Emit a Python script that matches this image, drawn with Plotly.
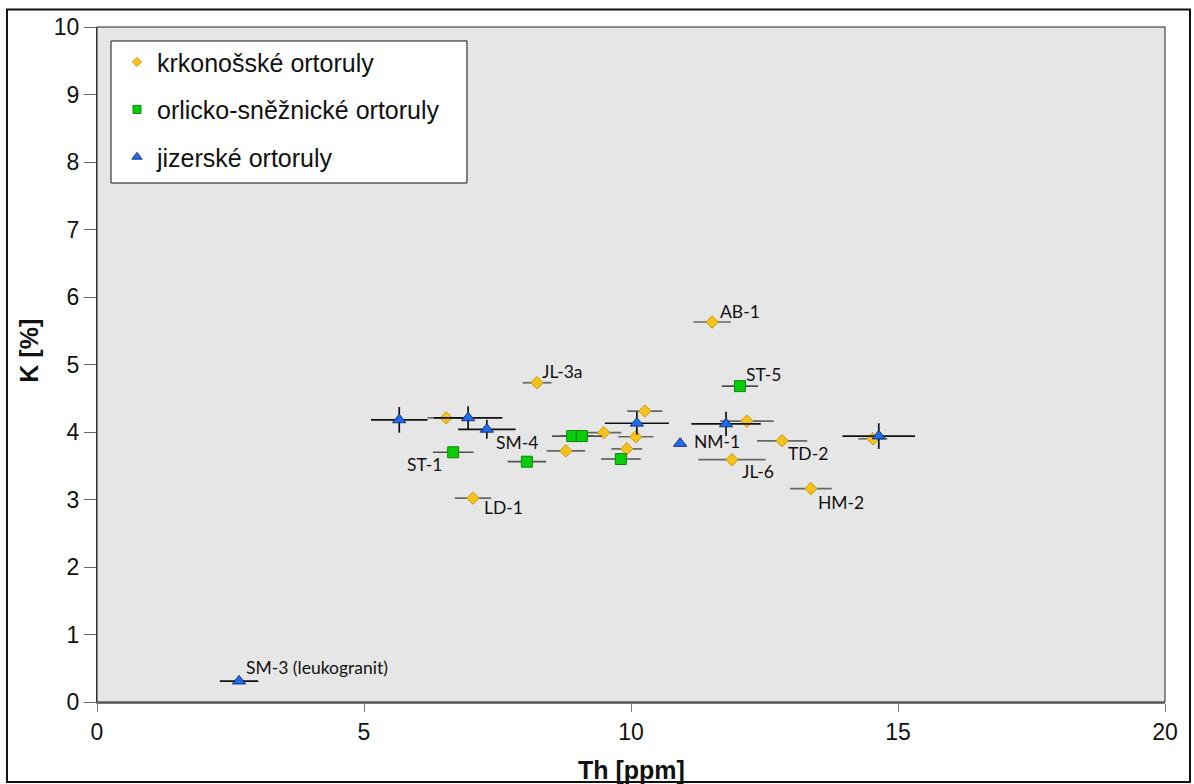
import plotly.graph_objects as go

# krkonošské ortoruly (yellow diamonds)
kr_th = [11.52, 8.24, 10.26, 6.54, 9.49, 10.09, 9.92, 8.78, 7.04, 12.17, 12.83, 11.89, 13.37, 14.53]
kr_k = [5.63, 4.73, 4.31, 4.21, 3.99, 3.93, 3.75, 3.72, 3.02, 4.16, 3.87, 3.59, 3.16, 3.90]
kr_eth = [0.35, 0.27, 0.33, 0.35, 0.33, 0.33, 0.29, 0.36, 0.34, 0.50, 0.47, 0.63, 0.39, 0.27]
kr_ek = [0.08] * 14
kr_lab = ["AB-1", "JL-3a", "", "", "", "", "", "", "LD-1", "", "TD-2", "JL-6", "HM-2", ""]

# orlicko-sněžnické ortoruly (green squares)
os_th = [12.04, 6.67, 8.05, 8.90, 9.08, 9.81]
os_k = [4.68, 3.70, 3.56, 3.94, 3.94, 3.60]
os_eth = [0.34, 0.38, 0.36, 0.38, 0.38, 0.37]
os_ek = [0.08] * 6
os_lab = ["ST-5", "ST-1", "", "", "", ""]

# jizerské ortoruly (blue triangles)
ji_th = [5.66, 6.95, 7.30, 10.11, 10.92, 11.78, 14.64, 2.66]
ji_k = [4.18, 4.21, 4.04, 4.13, 3.83, 4.12, 3.94, 0.31]
ji_eth = [0.53, 0.64, 0.54, 0.60, 0.0, 0.65, 0.68, 0.36]
ji_ek = [0.19, 0.17, 0.14, 0.17, 0.0, 0.18, 0.19, 0.0]
ji_lab = ["", "", "SM-4", "", "NM-1", "", "", "SM-3 (leukogranit)"]

# label offsets (pixels): dx, dy(up positive), anchor
label_pos = {
    "AB-1": (6, 10, "left"), "JL-3a": (3, 11, "left"), "LD-1": (9, -9, "left"),
    "TD-2": (4, -13, "left"), "JL-6": (8, -12, "left"), "HM-2": (5, -14, "left"),
    "ST-5": (4, 12, "left"), "ST-1": (-9, -12, "right"),
    "SM-4": (7, -13, "left"), "NM-1": (12, 2, "left"), "SM-3 (leukogranit)": (5, 14, "left"),
}

YEL, YEL_L = "#F7C21B", "#C99A00"
GRN, GRN_L = "#0ACC0A", "#078A07"
BLU, BLU_L = "#1E6CF0", "#16357A"

SANS = "Arial, 'Liberation Sans', sans-serif"

fig = go.Figure()

def add_series(th, k, eth, ek, sym, size, col, line_col, ebar_col):
    fig.add_trace(go.Scatter(
        x=th, y=k, mode="markers", showlegend=False,
        marker=dict(symbol=sym, size=size, color=col, line=dict(color=line_col, width=1)),
        error_x=dict(type="data", array=eth, color=ebar_col, thickness=1.7, width=0),
        error_y=dict(type="data", array=ek, color=ebar_col, thickness=1.7, width=0),
    ))

add_series(kr_th, kr_k, kr_eth, kr_ek, "diamond", 9.5, YEL, YEL_L, "#666666")
add_series(os_th, os_k, os_eth, os_ek, "square", 11, GRN, GRN_L, "#505050")
add_series(ji_th, ji_k, ji_eth, ji_ek, "triangle-up", 11.5, BLU, BLU_L, "#111111")

# legend-only entries
for name, sym, size, col, lc, g in [
    ("krkonošské ortoruly", "diamond", 7, YEL, YEL_L, "a"),
    ("orlicko-sněžnické ortoruly", "square", 8, GRN, GRN_L, "b"),
    ("jizerské ortoruly", "triangle-up", 9, BLU, BLU_L, "c"),
]:
    fig.add_trace(go.Scatter(
        x=[None], y=[None], mode="markers", name=name, legendgroup=g,
        marker=dict(symbol=sym, size=size, color=col, line=dict(color=lc, width=1)),
    ))

annotations = []
for th, k, labs in [(kr_th, kr_k, kr_lab), (os_th, os_k, os_lab), (ji_th, ji_k, ji_lab)]:
    for x, y, t in zip(th, k, labs):
        if not t:
            continue
        dx, dy, anc = label_pos[t]
        annotations.append(dict(
            x=x, y=y, xref="x", yref="y", text=t, showarrow=False,
            xanchor=anc, yanchor="middle", xshift=dx, yshift=dy,
            font=dict(family="Lato", size=17.5, color="#111111"),
        ))

annotations.append(dict(
    x=0.5, y=-0.1, xref="paper", yref="paper", text="<b>Th [ppm]</b>", showarrow=False,
    xanchor="center", yanchor="middle",
    font=dict(family=SANS, size=25, color="#111111"),
))
annotations.append(dict(
    x=-0.064, y=0.52, xref="paper", yref="paper", text="<b>K [%]</b>", showarrow=False,
    xanchor="center", yanchor="middle", textangle=-90,
    font=dict(family=SANS, size=25, color="#111111"),
))

shapes = [
    dict(type="rect", xref="paper", yref="paper", x0=0, x1=1, y0=0, y1=1,
         line=dict(color="#222222", width=1), fillcolor="rgba(0,0,0,0)", layer="above"),
    dict(type="rect", xref="paper", yref="paper", x0=-0.0843, x1=1.0234, y0=-0.1185, y1=1.026,
         line=dict(color="#111111", width=2), fillcolor="rgba(0,0,0,0)"),
    # legend box
    dict(type="rect", xref="paper", yref="paper", x0=0.0131, x1=0.3464, y0=0.7689, y1=0.9793,
         line=dict(color="#111111", width=1), fillcolor="white", layer="above"),
]

fig.update_layout(
    width=1194, height=784,
    margin=dict(l=97, r=29, t=27, b=82),
    paper_bgcolor="white", plot_bgcolor="#E6E6E6",
    font=dict(family=SANS, color="#111111"),
    xaxis=dict(range=[0, 20], tickvals=[0, 5, 10, 15, 20], showgrid=False, zeroline=False,
               showline=True, linecolor="#7a7a7a", linewidth=2,
               ticks="outside", ticklen=8, tickcolor="#7a7a7a", tickwidth=1,
               tickfont=dict(family=SANS, size=23, color="#111111")),
    yaxis=dict(range=[0, 10], tickvals=list(range(0, 11)), showgrid=False, zeroline=False,
               showline=True, linecolor="#444444", linewidth=1,
               ticks="outside", ticklen=12, tickcolor="#666666", tickwidth=1,
               tickfont=dict(family=SANS, size=23, color="#111111")),
    legend=dict(x=0.0131, y=0.982, xanchor="left", yanchor="top",
                bgcolor="rgba(0,0,0,0)", borderwidth=0,
                font=dict(family=SANS, size=25, color="#111111"),
                tracegroupgap=12, indentation=6),
    showlegend=True,
    annotations=annotations,
    shapes=shapes,
)

fig.write_html("out.html")
